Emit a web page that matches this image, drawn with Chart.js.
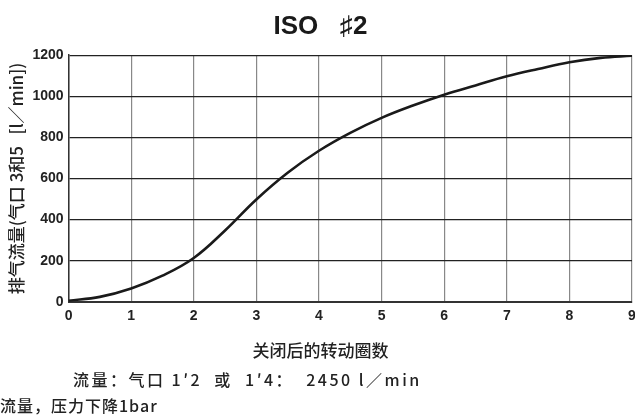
<!DOCTYPE html>
<html>
<head>
<meta charset="utf-8">
<script src="https://cdn.jsdelivr.net/npm/chart.js@4"></script>
<style>
  html, body { margin: 0; padding: 0; background: #fff; }
  #wrap { width: 635px; height: 419px; }
</style>
</head>
<body>
<div id="wrap"><canvas id="myChart"></canvas></div>
<script>
// turns after closing vs exhaust flow
var turns = [0, 0.5, 1, 1.5, 2, 2.5, 3, 3.5, 4, 4.5, 5, 5.5, 6, 6.5, 7, 7.5, 8, 8.5, 9];
var flow = [5, 24, 65, 127, 213, 347, 498, 628, 735, 822, 895, 955, 1008, 1053, 1097, 1133, 1166, 1187, 1197];
var xTicks = [0, 1, 2, 3, 4, 5, 6, 7, 8, 9];
var yTicks = [0, 200, 400, 600, 800, 1000, 1200];

var cjk = '"Noto Sans CJK SC", "Noto Sans", sans-serif';
var sans = '"Liberation Sans", Arial, sans-serif';

// the two note lines under the axis caption
var notes = {
    id: 'notes',
    afterDraw: function (chart) {
        var c = chart.ctx;
        c.save();
        c.fillStyle = '#222';
        c.textBaseline = 'middle';
        c.textAlign = 'left';
        c.font = '500 16px ' + cjk;
        c.letterSpacing = '2.5px';
        c.fillText("流量：气口 1′2  或  1′4：  2450 l／min", 73, 380);
        c.letterSpacing = '1px';
        c.fillText("流量，压力下降1bar", 0, 406);
        c.restore();
    }
};

var ctx = document.getElementById("myChart").getContext('2d');
var myChart = new Chart(ctx, {
    type: 'line',
    data: {
        datasets: [{
            label: 'flow',
            data: turns.map(function (t, i) { return {x: t, y: flow[i]}; }),
            borderColor: '#1a1a1a',
            borderWidth: 2.6,
            pointRadius: 0,
            fill: false,
            tension: 0.4
        }]
    },
    options: {
        responsive: true, maintainAspectRatio: false,
        animation: false,
        layout: { padding: { left: 6, right: 0, top: 0, bottom: 0 } },
        plugins: {
            legend: { display: false },
            tooltip: { enabled: false },
            title: {
                display: true,
                text: 'ISO   ♯2',
                color: '#1a1a1a',
                font: { family: '"Liberation Sans", "Noto Sans CJK SC", sans-serif', size: 26, weight: 'bold' },
                padding: { top: 11, bottom: 13 }
            },
            subtitle: {
                display: true,
                position: 'bottom',
                text: '关闭后的转动圈数',
                color: '#222',
                font: { family: cjk, size: 17, weight: '500' },
                padding: { top: 10, bottom: 58 }
            }
        },
        scales: {
            x: {
                type: 'linear',
                min: 0, max: 9,
                afterBuildTicks: function (axis) {
                    axis.ticks = xTicks.map(function (v) { return {value: v}; });
                },
                // let the plot run almost to the right edge, like the original
                afterFit: function (axis) { axis.paddingRight = 3; },
                grid: { color: '#888', lineWidth: 1.2, drawTicks: false },
                border: { color: '#333', width: 2 },
                ticks: {
                    color: '#222',
                    padding: 6,
                    callback: function (v) { return String(v); },
                    font: { family: sans, size: 14, weight: 'bold' }
                }
            },
            y: {
                min: 0, max: 1200,
                afterBuildTicks: function (axis) {
                    axis.ticks = yTicks.map(function (v) { return {value: v}; });
                },
                grid: { color: '#222', lineWidth: 1.2, drawTicks: false },
                border: { color: '#333', width: 1.5 },
                ticks: {
                    color: '#222',
                    padding: 5,
                    callback: function (v) { return String(v); },
                    font: { family: sans, size: 14, weight: 'bold' }
                },
                title: {
                    display: true,
                    text: '排气流量(气口 3和5   [l／min])',
                    color: '#222',
                    font: { family: cjk, size: 17, weight: '500' },
                    padding: { top: 0, bottom: 1 }
                }
            }
        }
    },
    plugins: [notes]
});
</script>
</body>
</html>
